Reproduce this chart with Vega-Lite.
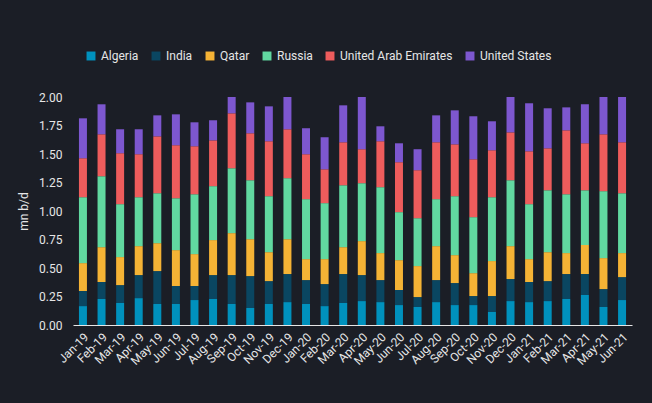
{
  "$schema": "https://vega.github.io/schema/vega-lite/v6.json",
  "width": 559,
  "height": 228,
  "autosize": {"type": "none"},
  "padding": {"left": 73, "top": 97, "right": 20, "bottom": 78},
  "background": "#1b1e26",
  "config": {
    "view": {"stroke": null},
    "font": "Roboto",
    "axis": {"grid": false, "ticks": false, "labelColor": "#e6e6e6", "titleColor": "#e6e6e6", "labelFont": "Roboto", "titleFont": "Roboto"},
    "legend": {"labelColor": "#e6e6e6", "labelFont": "Roboto"}
  },
  "data": {
    "values": [
      {"month": "Jan-19", "Algeria": 0.166, "India": 0.132, "Qatar": 0.245, "Russia": 0.578, "United Arab Emirates": 0.342, "United States": 0.35},
      {"month": "Feb-19", "Algeria": 0.228, "India": 0.149, "Qatar": 0.306, "Russia": 0.622, "United Arab Emirates": 0.368, "United States": 0.263},
      {"month": "Mar-19", "Algeria": 0.193, "India": 0.157, "Qatar": 0.246, "Russia": 0.464, "United Arab Emirates": 0.447, "United States": 0.21},
      {"month": "Apr-19", "Algeria": 0.236, "India": 0.202, "Qatar": 0.254, "Russia": 0.429, "United Arab Emirates": 0.377, "United States": 0.219},
      {"month": "May-19", "Algeria": 0.184, "India": 0.289, "Qatar": 0.245, "Russia": 0.438, "United Arab Emirates": 0.499, "United States": 0.184},
      {"month": "Jun-19", "Algeria": 0.184, "India": 0.158, "Qatar": 0.315, "Russia": 0.455, "United Arab Emirates": 0.465, "United States": 0.271},
      {"month": "Jul-19", "Algeria": 0.219, "India": 0.123, "Qatar": 0.28, "Russia": 0.525, "United Arab Emirates": 0.421, "United States": 0.21},
      {"month": "Aug-19", "Algeria": 0.228, "India": 0.21, "Qatar": 0.307, "Russia": 0.473, "United Arab Emirates": 0.402, "United States": 0.176},
      {"month": "Sep-19", "Algeria": 0.184, "India": 0.254, "Qatar": 0.368, "Russia": 0.569, "United Arab Emirates": 0.482, "United States": 0.143},
      {"month": "Oct-19", "Algeria": 0.149, "India": 0.28, "Qatar": 0.324, "Russia": 0.517, "United Arab Emirates": 0.412, "United States": 0.271},
      {"month": "Nov-19", "Algeria": 0.184, "India": 0.201, "Qatar": 0.254, "Russia": 0.491, "United Arab Emirates": 0.482, "United States": 0.306},
      {"month": "Dec-19", "Algeria": 0.201, "India": 0.246, "Qatar": 0.306, "Russia": 0.535, "United Arab Emirates": 0.429, "United States": 0.283},
      {"month": "Jan-20", "Algeria": 0.184, "India": 0.21, "Qatar": 0.184, "Russia": 0.526, "United Arab Emirates": 0.394, "United States": 0.228},
      {"month": "Feb-20", "Algeria": 0.166, "India": 0.193, "Qatar": 0.219, "Russia": 0.491, "United Arab Emirates": 0.297, "United States": 0.281},
      {"month": "Mar-20", "Algeria": 0.193, "India": 0.254, "Qatar": 0.236, "Russia": 0.543, "United Arab Emirates": 0.377, "United States": 0.324},
      {"month": "Apr-20", "Algeria": 0.21, "India": 0.228, "Qatar": 0.298, "Russia": 0.508, "United Arab Emirates": 0.298, "United States": 0.458},
      {"month": "May-20", "Algeria": 0.201, "India": 0.193, "Qatar": 0.237, "Russia": 0.578, "United Arab Emirates": 0.403, "United States": 0.131},
      {"month": "Jun-20", "Algeria": 0.175, "India": 0.132, "Qatar": 0.262, "Russia": 0.421, "United Arab Emirates": 0.438, "United States": 0.166},
      {"month": "Jul-20", "Algeria": 0.158, "India": 0.087, "Qatar": 0.272, "Russia": 0.42, "United Arab Emirates": 0.421, "United States": 0.184},
      {"month": "Aug-20", "Algeria": 0.201, "India": 0.193, "Qatar": 0.298, "Russia": 0.412, "United Arab Emirates": 0.499, "United States": 0.236},
      {"month": "Sep-20", "Algeria": 0.175, "India": 0.193, "Qatar": 0.245, "Russia": 0.517, "United Arab Emirates": 0.455, "United States": 0.298},
      {"month": "Oct-20", "Algeria": 0.175, "India": 0.079, "Qatar": 0.201, "Russia": 0.491, "United Arab Emirates": 0.508, "United States": 0.377},
      {"month": "Nov-20", "Algeria": 0.114, "India": 0.14, "Qatar": 0.307, "Russia": 0.56, "United Arab Emirates": 0.412, "United States": 0.254},
      {"month": "Dec-20", "Algeria": 0.21, "India": 0.193, "Qatar": 0.289, "Russia": 0.578, "United Arab Emirates": 0.42, "United States": 0.31},
      {"month": "Jan-21", "Algeria": 0.201, "India": 0.176, "Qatar": 0.201, "Russia": 0.482, "United Arab Emirates": 0.464, "United States": 0.421},
      {"month": "Feb-21", "Algeria": 0.21, "India": 0.175, "Qatar": 0.254, "Russia": 0.543, "United Arab Emirates": 0.368, "United States": 0.351},
      {"month": "Mar-21", "Algeria": 0.228, "India": 0.219, "Qatar": 0.184, "Russia": 0.516, "United Arab Emirates": 0.561, "United States": 0.201},
      {"month": "Apr-21", "Algeria": 0.263, "India": 0.184, "Qatar": 0.254, "Russia": 0.481, "United Arab Emirates": 0.412, "United States": 0.342},
      {"month": "May-21", "Algeria": 0.158, "India": 0.157, "Qatar": 0.272, "Russia": 0.587, "United Arab Emirates": 0.499, "United States": 0.327},
      {"month": "Jun-21", "Algeria": 0.219, "India": 0.201, "Qatar": 0.211, "Russia": 0.525, "United Arab Emirates": 0.447, "United States": 0.397}
    ]
  },
  "transform": [
    {"fold": ["Algeria", "India", "Qatar", "Russia", "United Arab Emirates", "United States"], "as": ["country", "value"]}
  ],
  "mark": {"type": "bar", "clip": true},
  "encoding": {
    "x": {
      "field": "month", "type": "nominal", "sort": null,
      "scale": {"paddingInner": 0.57, "paddingOuter": 0.32},
      "axis": {"title": null, "labelAngle": -45, "labelFontSize": 12, "labelPadding": 6, "domainColor": "#e6e6e6", "domainWidth": 1}
    },
    "y": {
      "field": "value", "type": "quantitative", "stack": "zero",
      "scale": {"domain": [0, 2], "nice": false},
      "axis": {"title": "mn b/d", "titleFontSize": 12, "titleFontWeight": "normal", "titlePadding": 8, "domain": false, "values": [0, 0.25, 0.5, 0.75, 1, 1.25, 1.5, 1.75, 2], "format": ".2f", "labelFontSize": 12, "labelPadding": 11}
    },
    "color": {
      "field": "country", "type": "nominal",
      "scale": {"domain": ["Algeria", "India", "Qatar", "Russia", "United Arab Emirates", "United States"], "range": ["#0091bd", "#0a4661", "#f5b335", "#61d8a0", "#ee5c5c", "#7d57cf"]},
      "legend": {"title": null, "orient": "none", "direction": "horizontal", "legendX": 12, "legendY": -47, "symbolType": "square", "symbolSize": 80, "symbolStrokeWidth": 0, "labelFontSize": 12, "columnPadding": 11, "labelOffset": 4}
    },
    "order": {"field": "country", "sort": "ascending"}
  }
}
